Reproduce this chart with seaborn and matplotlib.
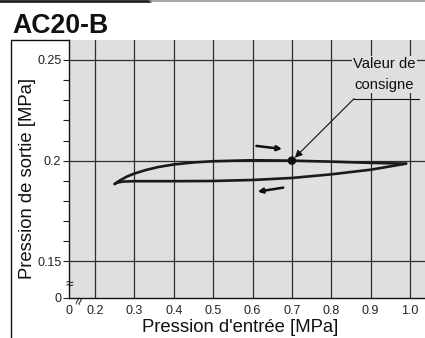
import matplotlib
matplotlib.use("Agg")
import matplotlib.pyplot as plt
from matplotlib.lines import Line2D
import seaborn as sns
import pandas as pd

# pressure rising (upper branch) and falling (lower branch)
up_x = [0.25, 0.26, 0.28, 0.30, 0.33, 0.36, 0.40, 0.45, 0.50, 0.60, 0.70, 0.80, 0.90, 0.99]
up_y = [0.1884, 0.1898, 0.1920, 0.1936, 0.1954, 0.1968, 0.1981, 0.1991, 0.1997, 0.2002, 0.2000, 0.1995, 0.1989, 0.1985]
down_x = [0.99, 0.90, 0.80, 0.70, 0.60, 0.50, 0.40, 0.30, 0.27, 0.255, 0.25]
down_y = [0.1985, 0.1955, 0.1932, 0.1914, 0.1904, 0.1899, 0.1898, 0.1898, 0.1896, 0.1890, 0.1884]
set_x = [0.70]
set_y = [0.20]

x_ticks = [0.2, 0.3, 0.4, 0.5, 0.6, 0.7, 0.8, 0.9, 1.0]
x_labels = ["0.2", "0.3", "0.4", "0.5", "0.6", "0.7", "0.8", "0.9", "1.0"]
y_ticks = [0.15, 0.20, 0.25]
y_labels = ["0.15", "0.2", "0.25"]
y_minor = [0.16, 0.17, 0.18, 0.19, 0.21, 0.22, 0.23, 0.24]

xmin, xmax = 0.134, 1.038
ymin, ymax = 0.1318, 0.2599

sns.set_theme(style="ticks")
plt.rcParams['font.family'] = ['Liberation Sans', 'DejaVu Sans']

fig = plt.figure(figsize=(4.25, 3.38), dpi=100)
ax = fig.add_axes([69/425, 40/338, 356/425, 258/338])
ax.set_facecolor('#dfdfe0')

df_up = pd.DataFrame({'x': up_x, 'y': up_y})
df_down = pd.DataFrame({'x': down_x, 'y': down_y})
sns.lineplot(data=df_up, x='x', y='y', sort=False, ax=ax, color='#1a1a1a', lw=1.9, zorder=4)
sns.lineplot(data=df_down, x='x', y='y', sort=False, ax=ax, color='#1a1a1a', lw=1.9, zorder=4)
sns.scatterplot(x=set_x, y=set_y, ax=ax, color='#111111', s=38, edgecolor='none', zorder=5)

ax.set_xlim(xmin, xmax)
ax.set_ylim(ymin, ymax)

ax.set_xticks([xmin] + x_ticks)
ax.set_xticklabels(["0"] + x_labels)
ax.set_yticks([ymin] + y_ticks)
ax.set_yticklabels(["0"] + y_labels)
ax.set_yticks(y_minor, minor=True)
ax.tick_params(axis='x', length=0, pad=5, labelsize=9, colors='#222222')
ax.tick_params(axis='y', which='major', length=4, width=0.8, pad=1.5, labelsize=9, colors='#222222')
ax.tick_params(axis='y', which='minor', length=4, width=0.8, color='#222222')

for v in x_ticks:
    ax.axvline(v, color='#2e2e2e', lw=0.9, zorder=1)
for v in y_ticks:
    ax.axhline(v, color='#2e2e2e', lw=0.9, zorder=1)

for s in ['top', 'right']:
    ax.spines[s].set_visible(False)
for s in ['left', 'bottom']:
    ax.spines[s].set_color('#111111')
    ax.spines[s].set_linewidth(1.0)

ax.set_xlabel("Pression d'entrée [MPa]", fontsize=13.3, color='#111111')
ax.xaxis.set_label_coords(0.48, -0.083)
ax.set_ylabel("Pression de sortie [MPa]", fontsize=13.3, color='#111111')
ax.yaxis.set_label_coords(-0.093, 0.465)

# axis break marks
ax.text(0, 0.054, "≈", transform=ax.transAxes, ha='center', va='center',
        fontsize=10, color='#111111', clip_on=False, zorder=6)
ax.text(0.031, -0.012, "≈", transform=ax.transAxes, ha='center', va='center',
        fontsize=10, rotation=75, color='#111111', clip_on=False, zorder=6)

# set point callout
ax.text(0.935, 0.2429, "Valeur de\nconsigne", ha='center', va='center',
        fontsize=10.7, linespacing=1.6, color='#111111', zorder=3,
        bbox=dict(facecolor='#dfdfe0', edgecolor='none', pad=1.0))
ax.plot([0.858, 1.023], [0.2308, 0.2308], color='#111111', lw=0.8, zorder=3)
ax.annotate("", xy=(set_x[0], set_y[0]), xytext=(0.858, 0.2308),
            arrowprops=dict(arrowstyle='-|>', color='#111111', lw=0.8,
                            mutation_scale=11, shrinkA=0, shrinkB=3), zorder=6)

# direction arrows
ax.annotate("", xy=(0.675, 0.2058), xytext=(0.61, 0.2073),
            arrowprops=dict(arrowstyle='-|>', color='#111111', lw=1.8,
                            mutation_scale=7, shrinkA=0, shrinkB=0))
ax.annotate("", xy=(0.613, 0.1846), xytext=(0.678, 0.1866),
            arrowprops=dict(arrowstyle='-|>', color='#111111', lw=1.8,
                            mutation_scale=7, shrinkA=0, shrinkB=0))

# title and frame
fig.text(12/425, 1 - 33/338, "AC20-B", fontsize=19.2, fontweight='bold',
         va='baseline', ha='left', color='#111111')
fig.add_artist(Line2D([11/425, 11/425], [0, 1 - 40/338], color='#111111', lw=1.0))
fig.add_artist(Line2D([11/425, 69/425], [1 - 40/338, 1 - 40/338], color='#111111', lw=1.0))
fig.add_artist(Line2D([0, 150/425], [1 - 1/338, 1 - 1/338], color='#222222', lw=2.0))
fig.add_artist(Line2D([150/425, 1], [1 - 1/338, 1 - 1/338], color='#999999', lw=1.2))

plt.savefig("out.png", dpi=100)
